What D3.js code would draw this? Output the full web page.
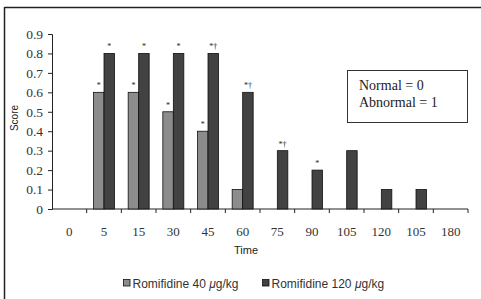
<!DOCTYPE html>
<html><head><meta charset="utf-8">
<script src="https://cdn.jsdelivr.net/npm/d3@7"></script>
<style>body{margin:0;background:#fff}svg{display:block}</style>
</head><body>
<script>
const categories = ["0","5","15","30","45","60","75","90","105","120","105","180"];
const romi40 = [0,0.6,0.6,0.5,0.4,0.1,0,0,0,0,0,0];
const romi120 = [0,0.8,0.8,0.8,0.8,0.6,0.3,0.2,0.3,0.1,0.1,0];
const marks40 = ["","*","*","*","*","","","","","","",""];
const marks120 = ["","*","*","*","*†","*†","*†","*","","","",""];
const yTicks = [0,0.1,0.2,0.3,0.4,0.5,0.6,0.7,0.8,0.9];
const seriesNames = ["Romifidine 40 ", "Romifidine 120 "];
const colors = ["#8c8c8c","#424242"];

const W=481,H=299;
const svg=d3.select("body").append("svg").attr("width",W).attr("height",H);
// frame
svg.append("line").attr("x1",4.5).attr("x2",W).attr("y1",7.5).attr("y2",7.5).attr("stroke","#222").attr("stroke-width",1.5);
svg.append("line").attr("x1",4.5).attr("x2",4.5).attr("y1",7).attr("y2",H).attr("stroke","#222").attr("stroke-width",1.5);

const x0=52,x1=468,yTop=34,yBot=209;
const x=d3.scaleBand().domain(d3.range(categories.length)).range([x0,x1]);
const y=d3.scaleLinear().domain([0,0.9]).range([yBot,yTop]);

// y axis
const ya=svg.append("g").attr("transform",`translate(${x0},0)`)
 .call(d3.axisLeft(y).tickValues(yTicks).tickFormat(d=>d===0?"0":d3.format(".1f")(d)).tickSize(4).tickPadding(5));
ya.select(".domain").attr("stroke","#222");
ya.selectAll("line").attr("stroke","#222");
ya.selectAll("text").attr("font-family","Liberation Serif, Times New Roman, serif").attr("font-size",13.5).attr("fill","#333");

// x axis
const xa=svg.append("g").attr("transform",`translate(0,${yBot})`);
xa.append("line").attr("x1",x0).attr("x2",x1).attr("stroke","#222");
const bounds=d3.range(categories.length).map(i=>x(i)+x.bandwidth());
xa.selectAll(".tk").data(bounds).join("line").attr("x1",d=>d).attr("x2",d=>d).attr("y1",0).attr("y2",4).attr("stroke","#222");
xa.selectAll(".lb").data(categories).join("text").attr("x",(d,i)=>x(i)+x.bandwidth()/2).attr("y",27)
 .attr("text-anchor","middle").attr("font-family","Liberation Serif, Times New Roman, serif").attr("font-size",13).attr("fill","#333").text(d=>d);

// bars
const bw=10.5;
const groups=[romi40,romi120];
const marks=[marks40,marks120];
groups.forEach((vals,s)=>{
  const g=svg.append("g");
  vals.forEach((v,i)=>{
    const cx=x(i)+x.bandwidth()/2;
    const bx=cx-bw+s*bw;
    if(v>0){
      g.append("rect").attr("x",bx).attr("y",y(v)).attr("width",bw).attr("height",yBot-y(v))
       .attr("fill",colors[s]).attr("stroke","#111").attr("stroke-width",0.8);
    }
    if(marks[s][i]){
      g.append("text").attr("x",bx+bw/2).attr("y",y(v)-4).attr("text-anchor","middle")
       .attr("font-family","Liberation Serif, serif").attr("font-size",8).attr("fill","#222").text(marks[s][i]);
    }
  });
});

// axis titles
svg.append("text").attr("transform","translate(18,118) rotate(-90)").attr("text-anchor","middle")
 .attr("font-family","Liberation Sans, Arial, sans-serif").attr("font-size",10).attr("fill","#222").text("Score");
svg.append("text").attr("x",246).attr("y",254).attr("text-anchor","middle")
 .attr("font-family","Liberation Sans, Arial, sans-serif").attr("font-size",11).attr("fill","#222").text("Time");

// note box
svg.append("rect").attr("x",347.5).attr("y",70.5).attr("width",120).attr("height",52).attr("fill","#fff").attr("stroke","#333");
svg.append("text").attr("x",359).attr("y",90).attr("font-family","Liberation Serif, Times New Roman, serif").attr("font-size",14).attr("fill","#222").text("Normal = 0");
svg.append("text").attr("x",359).attr("y",107).attr("font-family","Liberation Serif, Times New Roman, serif").attr("font-size",14).attr("fill","#222").text("Abnormal = 1");

// legend
const legX=[123,262];
seriesNames.forEach((n,s)=>{
  svg.append("rect").attr("x",legX[s]+0.5).attr("y",279.5).attr("width",6.5).attr("height",6.5).attr("fill",colors[s]).attr("stroke","#111").attr("stroke-width",0.8);
  const t=svg.append("text").attr("x",legX[s]+9.5).attr("y",288).attr("font-family","Liberation Sans, Arial, sans-serif").attr("font-size",12).attr("fill","#333");
  t.append("tspan").text(n);
  t.append("tspan").attr("font-style","italic").text("μ");
  t.append("tspan").text("g/kg");
});
</script>
</body></html>
